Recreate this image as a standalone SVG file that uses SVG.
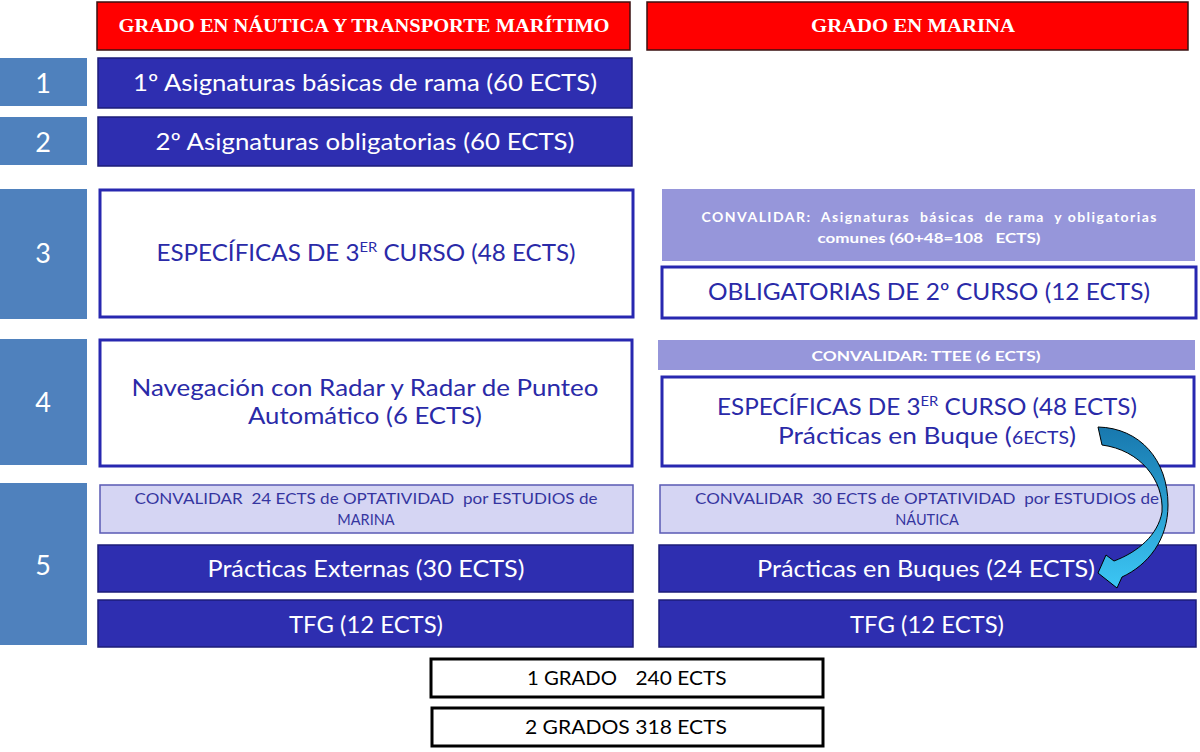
<svg xmlns="http://www.w3.org/2000/svg" width="1200" height="752" viewBox="0 0 1200 752">
<defs>
<linearGradient id="arrowGrad" x1="0" y1="0" x2="0" y2="1">
<stop offset="0" stop-color="#1878AE"/>
<stop offset="1" stop-color="#3CC6F4"/>
</linearGradient>
<style>
.hdr{fill:#FF0000;stroke:#3a1010;stroke-width:1.5}
.hdrt{font-family:"Liberation Serif",serif;font-weight:bold;font-size:18px;fill:#fff;text-anchor:middle}
.num{fill:#4F81BD}
.numt{font-family:Lato,"Noto Sans",sans-serif;font-size:27px;fill:#fff;text-anchor:middle}
.dark{fill:#2E2EB0;stroke:#1C1C78;stroke-width:1.5}
.darkt{font-family:Lato,"Noto Sans",sans-serif;font-size:23px;fill:#fff;text-anchor:middle}
.wbox{fill:#fff;stroke:#2828B0;stroke-width:3}
.wt{font-family:Lato,"Noto Sans",sans-serif;font-size:23px;fill:#2A2AA8;text-anchor:middle}
.lav{fill:#9696DA}
.lavt{font-family:Lato,"Noto Sans",sans-serif;font-weight:bold;font-size:14px;fill:#fff;text-anchor:middle}
.light{fill:#D5D5F3;stroke:#5A5AB4;stroke-width:1.5}
.lightt{font-family:Lato,"Noto Sans",sans-serif;font-size:14.5px;fill:#3535A0;text-anchor:middle}
.tot{fill:#fff;stroke:#000;stroke-width:3}
.tott{font-family:Lato,"Noto Sans",sans-serif;font-size:19px;fill:#000;text-anchor:middle}
</style>
</defs>
<rect width="1200" height="752" fill="#fff"/>

<g id="header-nautica"><rect class="hdr" x="97" y="2" width="533" height="48"/><text class="hdrt" x="364" y="32" textLength="491" lengthAdjust="spacingAndGlyphs">GRADO EN NÁUTICA Y TRANSPORTE MARÍTIMO</text></g>
<g id="header-marina"><rect class="hdr" x="647" y="2" width="541" height="48"/><text class="hdrt" x="913" y="32" textLength="204" lengthAdjust="spacingAndGlyphs">GRADO EN MARINA</text></g>

<g id="curso-1"><rect class="num" x="0" y="58" width="87" height="48"/><text class="numt" x="43" y="93">1</text></g>
<g id="curso-2"><rect class="num" x="0" y="117" width="87" height="48"/><text class="numt" x="43" y="152">2</text></g>
<g id="curso-3"><rect class="num" x="0" y="189" width="87" height="130"/><text class="numt" x="43" y="263">3</text></g>
<g id="curso-4"><rect class="num" x="0" y="339" width="87" height="126"/><text class="numt" x="43" y="412">4</text></g>
<g id="curso-5"><rect class="num" x="0" y="483" width="87" height="162"/><text class="numt" x="43" y="575">5</text></g>

<g id="n-basicas"><rect class="dark" x="98" y="58" width="534" height="50"/><text class="darkt" x="365" y="91" textLength="464" lengthAdjust="spacingAndGlyphs">1º Asignaturas básicas de rama (60 ECTS)</text></g>
<g id="n-obligatorias"><rect class="dark" x="98" y="117" width="534" height="49"/><text class="darkt" x="365" y="150" textLength="419" lengthAdjust="spacingAndGlyphs">2º Asignaturas obligatorias (60 ECTS)</text></g>
<g id="n-especificas"><rect class="wbox" x="100" y="190" width="533" height="127"/><text class="wt" x="366" y="261" textLength="419" lengthAdjust="spacingAndGlyphs">ESPECÍFICAS DE 3<tspan font-size="14" dy="-9">ER</tspan><tspan dy="9"> CURSO (48 ECTS)</tspan></text></g>
<g id="n-radar"><rect class="wbox" x="100" y="340" width="532" height="126"/><text class="wt" x="365" y="396" textLength="467" lengthAdjust="spacingAndGlyphs">Navegación con Radar y Radar de Punteo</text><text class="wt" x="365" y="424" textLength="234" lengthAdjust="spacingAndGlyphs">Automático (6 ECTS)</text></g>
<g id="n-convalidar-24"><rect class="light" x="100" y="485" width="533" height="48"/><text class="lightt" x="366" y="504" textLength="463" lengthAdjust="spacingAndGlyphs" xml:space="preserve">CONVALIDAR  24 ECTS de OPTATIVIDAD  por ESTUDIOS de</text><text class="lightt" x="366" y="525">MARINA</text></g>
<g id="n-externas"><rect class="dark" x="98" y="545" width="535" height="47"/><text class="darkt" x="366" y="577" textLength="317" lengthAdjust="spacingAndGlyphs">Prácticas Externas (30 ECTS)</text></g>
<g id="n-tfg-nautica"><rect class="dark" x="98" y="600" width="535" height="47"/><text class="darkt" x="366" y="633" textLength="154" lengthAdjust="spacingAndGlyphs">TFG (12 ECTS)</text></g>

<g id="m-convalidar-108"><rect class="lav" x="662" y="189" width="533" height="72"/><text class="lavt" x="929" y="222" textLength="455" lengthAdjust="spacing" xml:space="preserve">CONVALIDAR:  Asignaturas  básicas  de rama  y obligatorias</text><text class="lavt" x="929" y="243" textLength="223" lengthAdjust="spacingAndGlyphs" xml:space="preserve">comunes (60+48=108   ECTS)</text></g>
<g id="m-obligatorias"><rect class="wbox" x="662" y="267" width="534" height="51"/><text class="wt" x="929" y="300" textLength="442" lengthAdjust="spacingAndGlyphs">OBLIGATORIAS DE 2º CURSO (12 ECTS)</text></g>
<g id="m-convalidar-ttee"><rect class="lav" x="658" y="340" width="537" height="30"/><text class="lavt" x="926" y="361" textLength="229" lengthAdjust="spacingAndGlyphs">CONVALIDAR: TTEE (6 ECTS)</text></g>
<g id="m-especificas"><rect class="wbox" x="662" y="377" width="532" height="89"/><text class="wt" x="927" y="415" textLength="420" lengthAdjust="spacingAndGlyphs">ESPECÍFICAS DE 3<tspan font-size="14" dy="-9">ER</tspan><tspan dy="9"> CURSO (48 ECTS)</tspan></text><text class="wt" x="927" y="444" textLength="298" lengthAdjust="spacingAndGlyphs">Prácticas en Buque (<tspan font-size="17">6ECTS</tspan>)</text></g>
<g id="m-convalidar-30"><rect class="light" x="660" y="485" width="534" height="48"/><text class="lightt" x="927" y="504" textLength="464" lengthAdjust="spacingAndGlyphs" xml:space="preserve">CONVALIDAR  30 ECTS de OPTATIVIDAD  por ESTUDIOS de</text><text class="lightt" x="927" y="525">NÁUTICA</text></g>
<g id="m-buques"><rect class="dark" x="659" y="545" width="537" height="47"/><text class="darkt" x="926" y="577" textLength="338" lengthAdjust="spacingAndGlyphs">Prácticas en Buques (24 ECTS)</text></g>
<g id="m-tfg-marina"><rect class="dark" x="659" y="600" width="537" height="47"/><text class="darkt" x="927" y="633" textLength="154" lengthAdjust="spacingAndGlyphs">TFG (12 ECTS)</text></g>

<g id="total-1"><rect class="tot" x="431" y="659" width="392" height="38"/><text class="tott" x="572" y="685" textLength="90" lengthAdjust="spacingAndGlyphs">1 GRADO</text><text class="tott" x="681" y="685" textLength="91" lengthAdjust="spacingAndGlyphs">240 ECTS</text></g>
<g id="total-2"><rect class="tot" x="432" y="708" width="391" height="38"/><text class="tott" x="626" y="734" textLength="202" lengthAdjust="spacingAndGlyphs">2 GRADOS 318 ECTS</text></g>

<g id="connectors">
<path d="M1098,427 C1140,428 1168,460 1168,505 C1168,540 1148,565 1122,577 L1117,588 L1098,573 L1106,555 L1114,561 C1138,552 1158,535 1162,512 C1164,480 1140,450 1102,445 Z" fill="url(#arrowGrad)" stroke="#000" stroke-width="1"/>
</g>
</svg>
